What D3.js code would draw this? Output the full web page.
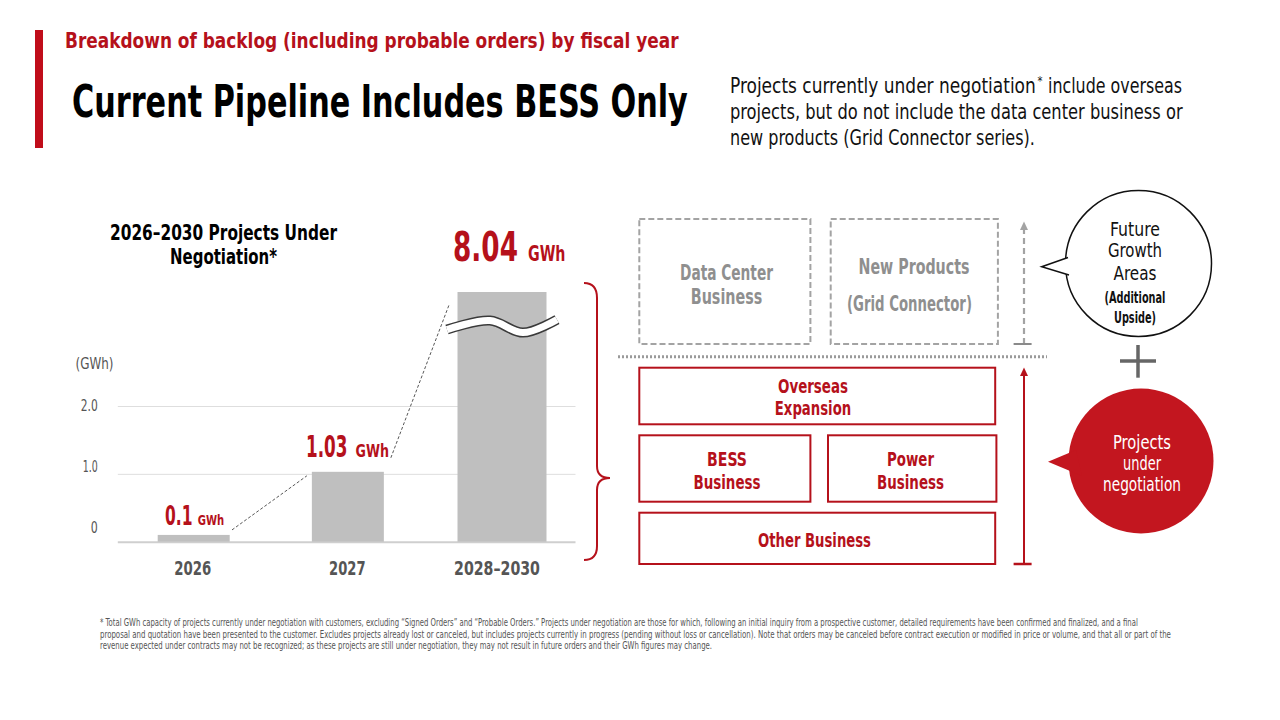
<!DOCTYPE html>
<html><head><meta charset="utf-8">
<script src="https://cdn.jsdelivr.net/npm/d3@7/dist/d3.min.js"></script>
<style>
body{margin:0;background:#fff;overflow:hidden}
svg text{font-family:"Liberation Sans Narrow","DejaVu Sans Condensed","Roboto",sans-serif}
</style>
</head><body>
<svg id="c" width="1280" height="720" viewBox="0 0 1280 720"></svg>
<script>
// ---------------- DATA ----------------
const categories = ["2026", "2027", "2028–2030"];
const values = [0.1, 1.03, 8.04];
const valueLabels = ["0.1", "1.03", "8.04"];
const unitLabel = "GWh";
const yTicks = [0, 1.0, 2.0];
const yTickLabels = ["0", "1.0", "2.0"];
const yUnit = "(GWh)";
const brokenCap = 3.68; // display height of the broken (truncated) bar, in GWh

const subtitle = "Breakdown of backlog (including probable orders) by fiscal year";
const title = "Current Pipeline Includes BESS Only";
const noteLine1 = ["Projects currently under negotiation", "*", "include overseas"];
const noteLines = ["projects, but do not include the data center business or", "new products (Grid Connector series)."];
const chartTitle = ["2026–2030 Projects Under", "Negotiation*"];
const futureBoxes = [["Data Center", "Business"], ["New Products", "(Grid Connector)"]];
const pipelineBoxes = [["Overseas", "Expansion"], ["BESS", "Business"], ["Power", "Business"], ["Other Business"]];
const futureBubble = ["Future", "Growth", "Areas", "(Additional", "Upside)"];
const pipelineBubble = ["Projects", "under", "negotiation"];
const footnote = [
  "* Total GWh capacity of projects currently under negotiation with customers, excluding “Signed Orders” and “Probable Orders.” Projects under negotiation are those for which, following an initial inquiry from a prospective customer, detailed requirements have been confirmed and finalized, and a final",
  "proposal and quotation have been presented to the customer. Excludes projects already lost or canceled, but includes projects currently in progress (pending without loss or cancellation). Note that orders may be canceled before contract execution or modified in price or volume, and that all or part of the",
  "revenue expected under contracts may not be recognized; as these projects are still under negotiation, they may not result in future orders and their GWh figures may change."
];

// ---------------- STYLE ----------------
const RED = "#b5111b", RED_FILL = "#c3161f", BAR = "#bfbfbf", GRAY_TXT = "#555", DASH_GRAY = "#a3a3a3";
const FONT = '"Liberation Sans Narrow","DejaVu Sans Condensed","Roboto",sans-serif';

const svg = d3.select("#c");

// text squeezed horizontally to a target width (condensed face)
function txt(g, s, x, y, o) {
  const t = g.append("text").attr("x", 0).attr("y", 0)
    .attr("font-size", o.size).attr("font-weight", o.weight || "bold")
    .attr("fill", o.fill || "#000").attr("text-anchor", o.anchor || "start")
    .style("font-family", FONT).text(s);
  let sx = 1;
  if (o.w) { const n = t.node().getComputedTextLength(); if (n > 0) sx = o.w / n; }
  t.attr("transform", `translate(${x},${y}) scale(${sx},1)`);
  return t;
}
function squeeze(sel, widths) {
  sel.each(function (d, i) {
    const n = this.getComputedTextLength();
    const cur = this.getAttribute("transform") || "";
    this.setAttribute("transform", cur + ` scale(${widths[i] / n},1)`);
  });
}

// ---------------- HEADER ----------------
svg.append("rect").attr("x", 35).attr("y", 30).attr("width", 8).attr("height", 118).attr("fill", "#c00d1a");
txt(svg, subtitle, 65, 47.5, {size: 22, fill: RED, w: 614});
txt(svg, title, 72, 117, {size: 44, fill: "#000", w: 616});
txt(svg, noteLine1[0], 730, 93, {size: 22, weight: "normal", fill: "#111", w: 306});
txt(svg, noteLine1[1], 1037.5, 85, {size: 12, weight: "normal", fill: "#111", w: 5});
txt(svg, noteLine1[2], 1048, 93, {size: 22, weight: "normal", fill: "#111", w: 134});
txt(svg, noteLines[0], 730, 119, {size: 22, weight: "normal", fill: "#111", w: 453});
txt(svg, noteLines[1], 730, 145, {size: 22, weight: "normal", fill: "#111", w: 305});

// ---------------- CHART ----------------
const chart = svg.append("g");
const y = d3.scaleLinear().domain([0, 2]).range([541.7, 406]);
const x = d3.scalePoint().domain(categories).range([193.7, 502]);
const barW = (d, i) => (i === 2 ? 89 : 72);
const gridX0 = 117.8, gridX1 = 575.5;

txt(chart, chartTitle[0], 223.5, 239.5, {size: 22, anchor: "middle", w: 227});
txt(chart, chartTitle[1], 223.5, 264, {size: 22, anchor: "middle", w: 107});
txt(chart, yUnit, 75.5, 369, {size: 15, weight: "normal", fill: GRAY_TXT, w: 38});

const yAxis = chart.append("g").attr("transform", `translate(${gridX0},0)`)
  .call(d3.axisLeft(y).tickValues(yTicks).tickSize(-(gridX1 - gridX0)).tickPadding(20)
    .tickFormat((d, i) => yTickLabels[i]));
yAxis.select(".domain").remove();
yAxis.selectAll(".tick line").attr("stroke", (d) => d === 0 ? "#cfcfcf" : "#dedede").attr("stroke-width", (d) => d === 0 ? 2 : 1);
const tickDy = [-9.5, -2, 4];
const yt = yAxis.selectAll(".tick text").attr("font-size", 16).attr("fill", GRAY_TXT).attr("font-weight", "normal")
  .style("font-family", FONT).attr("dy", 0).attr("x", 0)
  .attr("transform", (d, i) => `translate(-20,${tickDy[i]})`);
squeeze(yt, [7, 15, 17]);

const dispVal = (v, i) => (i === 2 ? brokenCap : v);
chart.selectAll("rect.bar").data(values).join("rect").attr("class", "bar")
  .attr("x", (d, i) => x(categories[i]) - barW(d, i) / 2)
  .attr("width", barW)
  .attr("y", (d, i) => y(dispVal(d, i)))
  .attr("height", (d, i) => y(0) - y(dispVal(d, i)))
  .attr("fill", BAR);

const xAxis = chart.append("g").attr("transform", `translate(0,${y(0)})`)
  .call(d3.axisBottom(x).tickSize(0).tickPadding(0));
xAxis.select(".domain").remove();
const xLabDx = [-1.5, -1, -5.5];
const xt = xAxis.selectAll(".tick text").attr("font-size", 19.5).attr("font-weight", "bold").attr("fill", GRAY_TXT)
  .style("font-family", FONT).attr("y", 0).attr("dy", 0)
  .attr("transform", (d, i) => `translate(${xLabDx[i]},33.5)`);
squeeze(xt, [37, 36.5, 86]);

// value labels
const numSize = [26, 30, 40], unitSize = [14, 17, 21];
const numDx = [-28.7, -41.9, -49], unitDx = [4, 7.7, 26];
const numW = [27.5, 41.5, 65], unitW = [26.5, 33.5, 37.5];
const labDy = [-9.9, -15.2, -31.4];
values.forEach((v, i) => {
  const cx = x(categories[i]);
  const by = y(dispVal(v, i)) + labDy[i];
  txt(chart, valueLabels[i], cx + numDx[i], by, {size: numSize[i], fill: RED, w: numW[i]});
  txt(chart, unitLabel, cx + unitDx[i], by, {size: unitSize[i], fill: RED, w: unitW[i]});
});

// dashed connectors
const b0 = x(categories[0]) + 36, b1l = x(categories[1]) - 36, b1r = x(categories[1]) + 36, b2l = x(categories[2]) - 44.5;
const conn = [
  [[b0 + 2.3, y(values[0]) - 5], [b1l - 5, y(values[1]) + 4]],
  [[b1r + 7, y(values[1]) - 14], [b2l - 8.5, y(brokenCap) + 13]]
];
conn.forEach(c => chart.append("line").attr("x1", c[0][0]).attr("y1", c[0][1]).attr("x2", c[1][0]).attr("y2", c[1][1])
  .attr("stroke", "#444").attr("stroke-width", 0.9).attr("stroke-dasharray", "3,2"));

// break wave
const topB = y(brokenCap);
const wx0 = b2l - 10.5, wx1 = x(categories[2]) + 44.5 + 10.5;
const wavePts = [[wx0, topB + 37.6], [wx0 + 43, topB + 28.6], [wx0 + 76, topB + 40.6], [wx1, topB + 27.6]];
const wave = d3.line().curve(d3.curveCatmullRom.alpha(0.5));
chart.append("path").attr("d", wave(wavePts)).attr("fill", "none").attr("stroke", "#3a3a3a").attr("stroke-width", 10);
chart.append("path").attr("d", wave(wavePts)).attr("fill", "none").attr("stroke", "#fff").attr("stroke-width", 7);

// brace
svg.append("path").attr("d", "M584,283 Q597,283 597,298 L597,466 Q597,478 610,478 Q597,478 597,490 L597,546 Q597,560 584,560")
  .attr("fill", "none").attr("stroke", RED).attr("stroke-width", 2);

// ---------------- DIAGRAM ----------------
const dg = svg.append("g");
const fBoxes = [[639.3, 810.4], [830.7, 997.9]];
fBoxes.forEach((b) => dg.append("rect").attr("x", b[0]).attr("y", 219).attr("width", b[1] - b[0]).attr("height", 125)
  .attr("fill", "none").attr("stroke", DASH_GRAY).attr("stroke-width", 2).attr("stroke-dasharray", "6,3"));
txt(dg, futureBoxes[0][0], 726.5, 280, {size: 21, fill: "#8f8f8f", anchor: "middle", w: 93});
txt(dg, futureBoxes[0][1], 726.5, 304, {size: 21, fill: "#8f8f8f", anchor: "middle", w: 71.5});
txt(dg, futureBoxes[1][0], 914, 273.5, {size: 21, fill: "#8f8f8f", anchor: "middle", w: 111});
txt(dg, futureBoxes[1][1], 909.5, 311, {size: 21, fill: "#8f8f8f", anchor: "middle", w: 125});

dg.append("line").attr("x1", 618).attr("x2", 1047).attr("y1", 356.7).attr("y2", 356.7)
  .attr("stroke", "#9a9a9a").attr("stroke-width", 3).attr("stroke-dasharray", "2,2");

const pRects = [[639.3, 367.7, 995.2, 424.3], [639.3, 435.3, 810.4, 501.7], [828, 435.3, 996.4, 501.7], [639.3, 512.7, 995.2, 564]];
pRects.forEach(r => dg.append("rect").attr("x", r[0]).attr("y", r[1]).attr("width", r[2] - r[0]).attr("height", r[3] - r[1])
  .attr("fill", "none").attr("stroke", RED).attr("stroke-width", 2));
const pLab = [
  [[813, 392.5, 70], [813, 415, 76.5]],
  [[727, 466, 40], [727, 488.8, 67]],
  [[910.5, 466, 47], [910.5, 488.8, 67]],
  [[814.5, 546.7, 113]]
];
pipelineBoxes.forEach((lines, i) => lines.forEach((s, j) => {
  const p = pLab[i][j];
  txt(dg, s, p[0], p[1], {size: 20, fill: RED, anchor: "middle", w: p[2]});
}));

// arrows
const ax = 1024;
dg.append("line").attr("x1", ax).attr("x2", ax).attr("y1", 344).attr("y2", 229).attr("stroke", DASH_GRAY).attr("stroke-width", 2.2).attr("stroke-dasharray", "6,4");
dg.append("path").attr("d", `M${ax - 4},230 L${ax},221.5 L${ax + 4},230 Z`).attr("fill", DASH_GRAY);
dg.append("line").attr("x1", 1013.6).attr("x2", 1031.6).attr("y1", 344).attr("y2", 344).attr("stroke", "#8a8a8a").attr("stroke-width", 2);
dg.append("line").attr("x1", ax).attr("x2", ax).attr("y1", 564).attr("y2", 375).attr("stroke", RED).attr("stroke-width", 2);
dg.append("path").attr("d", `M${ax - 4},376 L${ax},367.5 L${ax + 4},376 Z`).attr("fill", RED);
dg.append("line").attr("x1", 1013.6).attr("x2", 1031.6).attr("y1", 564).attr("y2", 564).attr("stroke", RED).attr("stroke-width", 2.5);

// bubbles
dg.append("circle").attr("cx", 1138.5).attr("cy", 263.5).attr("r", 73).attr("fill", "#fff").attr("stroke", "#111").attr("stroke-width", 1.5);
dg.append("path").attr("d", "M1068,257.5 L1041.7,266.7 L1069,275").attr("fill", "#fff").attr("stroke", "#111").attr("stroke-width", 1.5).attr("stroke-linejoin", "miter");
const fbY = [235.7, 257, 280, 303.3, 323], fbW = [50, 54, 43, 61, 42], fbS = [19.5, 19.5, 19.5, 16, 16];
futureBubble.forEach((s, i) => txt(dg, s, 1135, fbY[i], {size: fbS[i], weight: i < 3 ? "normal" : "bold", fill: "#111", anchor: "middle", w: fbW[i]}));

dg.append("line").attr("x1", 1120).attr("x2", 1156).attr("y1", 361).attr("y2", 361).attr("stroke", "#666").attr("stroke-width", 3.5);
dg.append("line").attr("x1", 1138).attr("x2", 1138).attr("y1", 345).attr("y2", 377.7).attr("stroke", "#666").attr("stroke-width", 3.5);

dg.append("circle").attr("cx", 1141).attr("cy", 461).attr("r", 72.5).attr("fill", RED_FILL);
dg.append("path").attr("d", "M1076,450 L1048,461.7 L1082,476 Z").attr("fill", RED_FILL);
const pbY = [448.5, 469.5, 491], pbW = [58, 38, 78];
pipelineBubble.forEach((s, i) => txt(dg, s, 1142, pbY[i], {size: 19.5, weight: "normal", fill: "#fff", anchor: "middle", w: pbW[i]}));

// ---------------- FOOTNOTE ----------------
const fnW = [1040, 1072, 613];
footnote.forEach((s, i) => txt(svg, s, 100, 626 + i * 11.5, {size: 10, weight: "normal", fill: "#555", w: fnW[i]}));
</script>
</body></html>
